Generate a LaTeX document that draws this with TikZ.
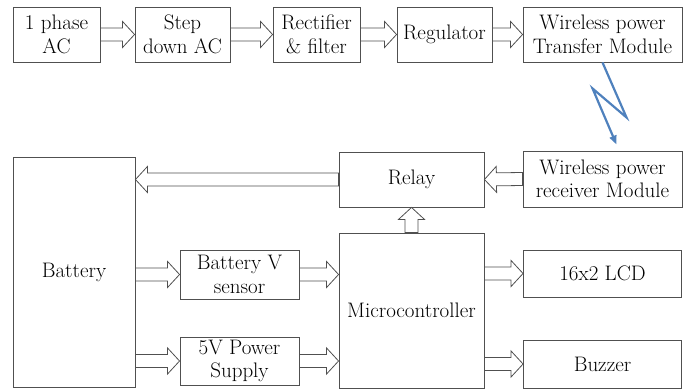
\documentclass[tikz,border=0pt]{standalone}
\usetikzlibrary{calc,arrows.meta}
\definecolor{edge}{HTML}{505050}
\definecolor{zapblue}{HTML}{4F81BD}
\tikzset{
  blk/.style={draw=edge, line width=0.9pt, align=center, inner sep=0pt,
    font=\fontsize{21}{23.5}\selectfont, text=black},
  flow/.style={draw=edge, line width=0.8pt, line join=miter, to path={
    ($(\tikztostart)!6.5pt!90:(\tikztotarget)$)
    -- ($(\tikztotarget)!12pt!(\tikztostart)!6.5pt!90:(\tikztotarget)$)
    -- ($(\tikztotarget)!12pt!(\tikztostart)!13pt!90:(\tikztotarget)$)
    -- (\tikztotarget)
    -- ($(\tikztotarget)!12pt!(\tikztostart)!13pt!-90:(\tikztotarget)$)
    -- ($(\tikztotarget)!12pt!(\tikztostart)!6.5pt!-90:(\tikztotarget)$)
    -- ($(\tikztostart)!6.5pt!-90:(\tikztotarget)$) -- cycle}},
  zap/.style={draw=zapblue, line width=2.2pt, line join=miter}
}
\begin{document}
\begin{tikzpicture}[x=1pt, y=-1pt]
  \useasboundingbox (0,0) rectangle (686,390);
  % top row
  \node[blk, minimum width=87, minimum height=55] (ac) at (56.5,34.5) {1 phase\\AC};
  \node[blk, minimum width=95, minimum height=55] (sd) at (182.5,34.5) {Step\\down AC};
  \node[blk, minimum width=87, minimum height=55] (rf) at (316.5,34.5) {Rectifier\\\& filter};
  \node[blk, minimum width=95, minimum height=55] (reg) at (444.5,34.5) {Regulator};
  \node[blk, minimum width=159, minimum height=55] (tx) at (602.5,34.5) {Wireless power\\Transfer Module};
  % lower part
  \node[blk, minimum width=159, minimum height=56] (rx) at (602.5,179) {Wireless power\\receiver Module};
  \node[blk, minimum width=145, minimum height=55] (rel) at (411.5,179.5) {Relay};
  \node[blk, minimum width=122, minimum height=230] (bat) at (74,272) {Battery};
  \node[blk, minimum width=119, minimum height=49] (sen) at (239.5,274.5) {Battery V\\sensor};
  \node[blk, minimum width=119, minimum height=48] (psu) at (239.5,361) {5V Power\\Supply};
  \node[blk, minimum width=145, minimum height=155] (mcu) at (411.5,310.5) {Microcontroller};
  \node[blk, minimum width=158, minimum height=47] (lcd) at (602.5,273.5) {16x2 LCD};
  \node[blk, minimum width=158, minimum height=48] (bz) at (602.5,364) {Buzzer};

  \coordinate (rb) at (rel.west -| bat.east);
  \coordinate (bs) at (bat.east |- sen.west);
  \coordinate (bp) at (bat.east |- psu.west);
  \coordinate (sm) at (sen.east -| mcu.west);
  \coordinate (pm) at (psu.east -| mcu.west);
  \coordinate (ml) at (mcu.east |- lcd.west);
  \coordinate (mb) at (mcu.east |- bz.west);

  \draw[flow] (ac.east) to (sd.west);
  \draw[flow] (sd.east) to (rf.west);
  \draw[flow] (rf.east) to (reg.west);
  \draw[flow] (reg.east) to (tx.west);
  \draw[flow] (rx.west) to (rel.east);
  \draw[flow] (rel.west) to (rb);
  \draw[flow] (mcu.north) to (rel.south);
  \draw[flow] (bs) to (sen.west);
  \draw[flow] (bp) to (psu.west);
  \draw[flow] (sen.east) to (sm);
  \draw[flow] (psu.east) to (pm);
  \draw[flow] (ml) to (lcd.west);
  \draw[flow] (mb) to (bz.west);

  % wireless link
  \draw[zap, -{Triangle[length=9pt,width=7pt]}] (tx.south) -- ++(24,55) -- ++(-34,-29)
    -- ($(rx.north)+(14,-6)$);
\end{tikzpicture}
\end{document}
